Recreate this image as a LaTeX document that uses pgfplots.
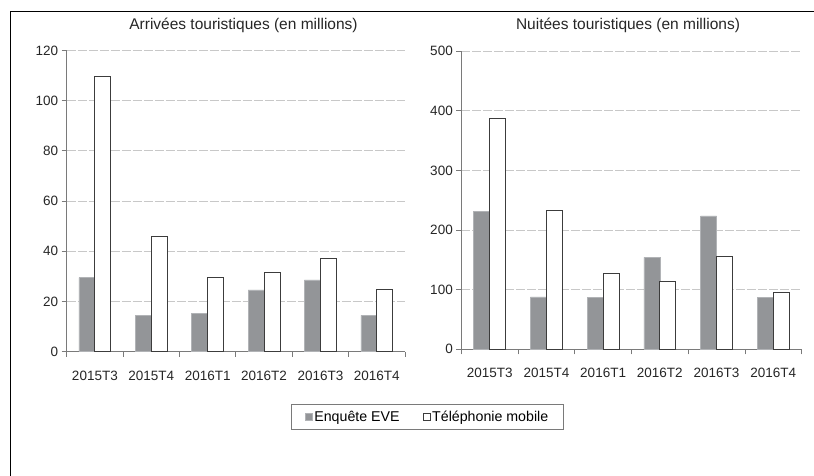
\documentclass[border=0pt]{standalone}
\usepackage{fontspec}
\setmainfont{Liberation Sans}
\usepackage{pgfplots}
\pgfplotsset{compat=1.18}
\definecolor{barg}{HTML}{939598}
\definecolor{bargedge}{HTML}{B1B3B6}
\definecolor{baredge}{HTML}{3C3C3C}
\definecolor{axisg}{HTML}{7A7A7A}
\definecolor{gridg}{HTML}{C8C8C8}
\pgfplotsset{
  mybars/.style={
    scale only axis,
    axis x line=bottom, axis y line=left,
    axis line style={-, color=axisg, line width=0.9pt},
    xmin=-0.5, xmax=5.5, ymin=0,
    xtick={0,...,5},
    xticklabels={2015T3,2015T4,2016T1,2016T2,2016T3,2016T4},
    minor xtick={-0.5,0.5,...,5.5},
    x tick style={draw=none},
    minor x tick style={draw=axisg, line width=0.9pt},
    minor tick length=5pt,
    major tick length=5pt,
    tick align=outside,
    y tick style={draw=axisg, line width=0.9pt},
    ymajorgrids,
    grid style={gridg, line width=0.9pt, dash pattern=on 9pt off 2pt},
    /pgf/number format/assume math mode=true,
    tick label style={font=\fontsize{13.5}{15}\selectfont, text=black!85},
    xticklabel style={yshift=-10.5pt},
    ybar, bar width=16pt,
    clip=false,
  },
  grayb/.style={fill=barg, draw=bargedge, line width=0.6pt, bar shift=-8pt},
  whiteb/.style={fill=white, draw=baredge, line width=0.8pt, bar shift=8pt},
}
\begin{document}
\begin{tikzpicture}
\path[use as bounding box] (0pt,0pt) rectangle (814pt,475pt);
\draw[black, line width=1.3pt] (10.7pt,-2pt) -- (10.7pt,463.7pt) -- (816pt,463.7pt);
\node[anchor=base, font=\fontsize{15.5}{17}\selectfont, text=black!85] at (243.5pt,445.7pt) {Arrivées touristiques (en millions)};
\node[anchor=base, font=\fontsize{15.5}{17}\selectfont, text=black!85] at (628pt,445.7pt) {Nuitées touristiques (en millions)};
\begin{axis}[mybars,
  at={(66.7pt,123.3pt)}, anchor=south west,
  width=338.3pt, height=301.2pt,
  ymax=120, ytick={0,20,...,120},
  legend columns=2,
  legend style={at={(1.0665,-0.2165)}, anchor=center, draw=axisg, line width=0.9pt,
    font=\fontsize{14.2}{16}\selectfont, inner xsep=13pt, inner ysep=4.5pt,
    /tikz/every even column/.append style={column sep=21pt}},
  legend image code/.code={\draw[#1, line width=0.6pt] (0pt,-3.5pt) rectangle (7pt,3.5pt);},
]
\addplot[grayb] coordinates {(0,29.5) (1,14.6) (2,15.4) (3,24.6) (4,28.6) (5,14.5)};
\addplot[whiteb] coordinates {(0,109.6) (1,46.1) (2,29.8) (3,31.5) (4,37.1) (5,24.8)};
\legend{Enquête EVE, Téléphonie mobile}
\end{axis}
\begin{axis}[mybars,
  at={(461.3pt,125.7pt)}, anchor=south west,
  width=340.4pt, height=298pt,
  ymax=500, ytick={0,100,...,500},
]
\addplot[grayb] coordinates {(0,231) (1,88) (2,87.2) (3,154.4) (4,223.7) (5,86.6)};
\addplot[whiteb] coordinates {(0,387.6) (1,233.7) (2,128) (3,114.6) (4,155.4) (5,95.6)};
\end{axis}
\end{tikzpicture}
\end{document}
